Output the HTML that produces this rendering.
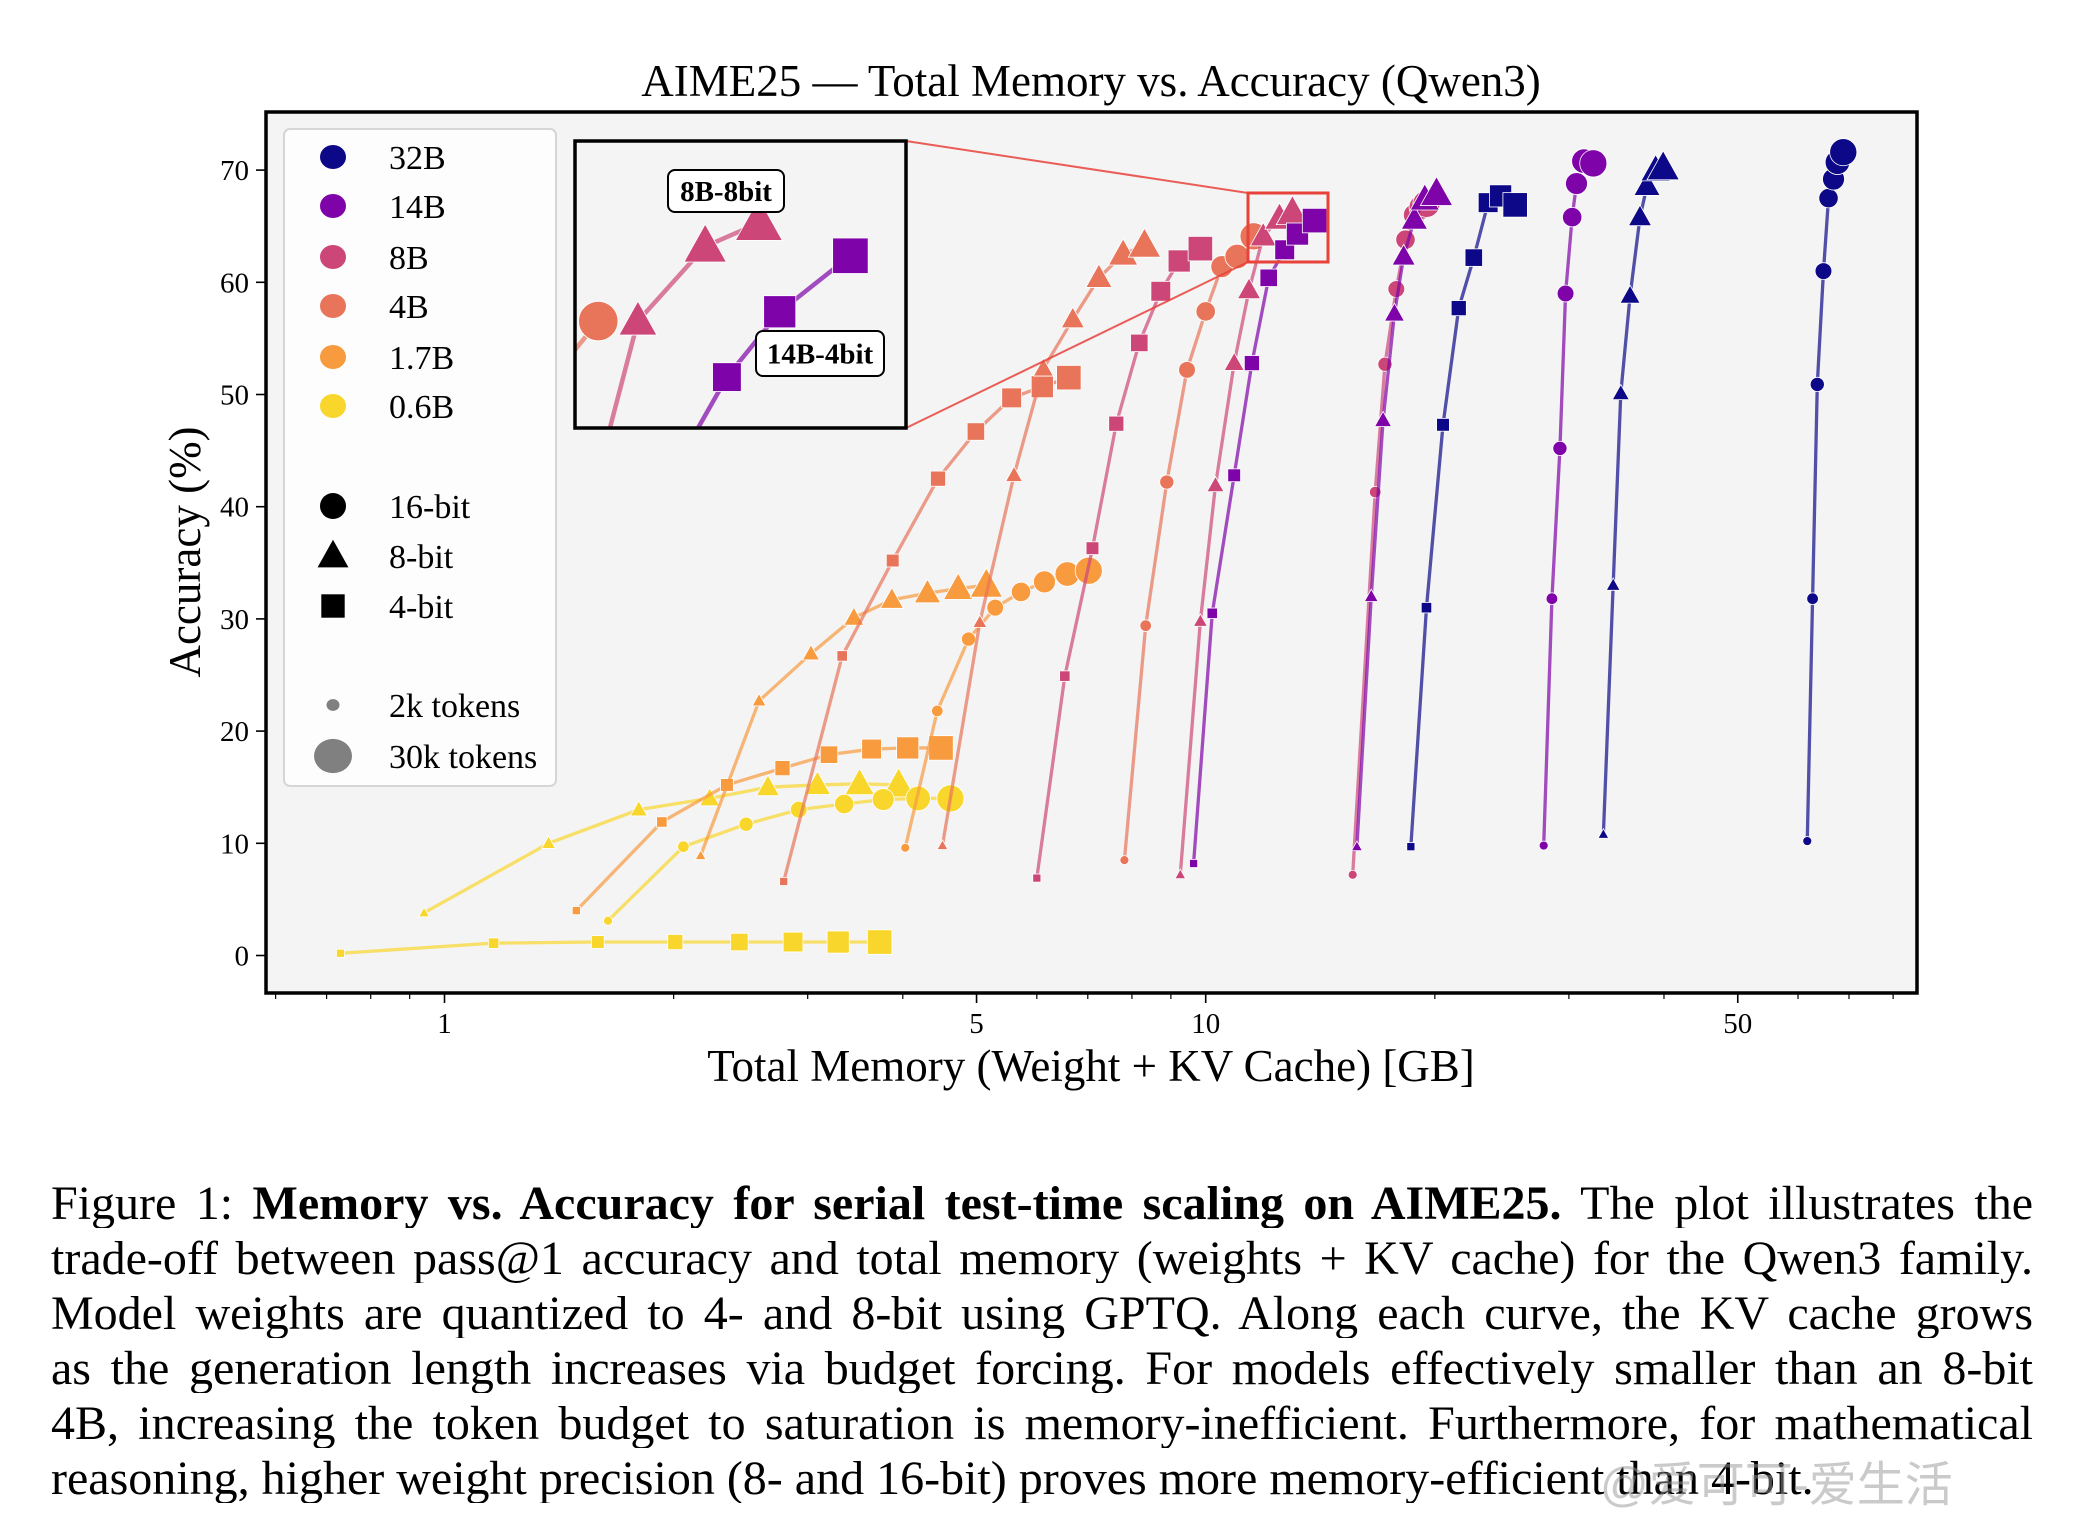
<!DOCTYPE html>
<html><head><meta charset="utf-8">
<style>
html,body{margin:0;padding:0;background:#fff;overflow:hidden;}
body{width:2076px;height:1532px;position:relative;overflow:hidden;font-family:"Liberation Serif",serif;}
svg{position:absolute;left:0;top:0;}
.cap{position:absolute;left:51px;width:1982px;font-size:48px;line-height:48px;text-align:justify;text-align-last:justify;white-space:nowrap;color:#000;overflow:hidden;}
.cap.last{text-align-last:left;}
</style></head>
<body>
<svg id="chart" width="2076" height="1100" viewBox="0 0 2076 1100" xmlns="http://www.w3.org/2000/svg" font-family="Liberation Serif, serif">
  <defs>
    <clipPath id="plotClip"><rect x="266" y="112" width="1651" height="881"/></clipPath>
    <clipPath id="insetClip"><rect x="575" y="141" width="331" height="287"/></clipPath>
  </defs>
  <text x="1091" y="96" font-size="45" text-anchor="middle">AIME25 — Total Memory vs. Accuracy (Qwen3)</text>
  <rect x="266" y="112" width="1651" height="881" fill="#f4f4f4"/>
  <g id="axes"></g>
  <g id="series" clip-path="url(#plotClip)"></g>
  <g id="zoombox"></g>
  <g id="inset"></g>
  <rect x="266" y="112" width="1651" height="881" fill="none" stroke="#000" stroke-width="3.5"/>
  <g id="legend"></g>
  <text x="1091" y="1081" font-size="45" text-anchor="middle">Total Memory (Weight + KV Cache) [GB]</text>
  <text x="0" y="0" font-size="45" text-anchor="middle" transform="translate(200,552) rotate(-90)">Accuracy (%)</text>
</svg>

<div class="cap" style="top:1180px">Figure 1: <b>Memory vs. Accuracy for serial test-time scaling on AIME25.</b> The plot illustrates the</div>
<div class="cap" style="top:1235px">trade-off between pass@1 accuracy and total memory (weights + KV cache) for the Qwen3 family.</div>
<div class="cap" style="top:1290px">Model weights are quantized to 4- and 8-bit using GPTQ. Along each curve, the KV cache grows</div>
<div class="cap" style="top:1345px">as the generation length increases via budget forcing. For models effectively smaller than an 8-bit</div>
<div class="cap" style="top:1400px">4B, increasing the token budget to saturation is memory-inefficient. Furthermore, for mathematical</div>
<div class="cap last" style="top:1455px">reasoning, higher weight precision (8- and 16-bit) proves more memory-efficient than 4-bit.</div>
<div style="position:absolute;left:1600px;top:1458px;font-family:'Liberation Sans','Noto Sans CJK SC',sans-serif;font-size:48px;line-height:56px;color:rgba(150,150,150,0.5);">@爱可可-爱生活</div>

<script>
// ---- data ----
const xTickValues = [1, 5, 10, 50];
const xMinorTicks = [0.6,0.7,0.8,0.9,2,3,4,6,7,8,9,20,30,40,60,70,80];
const yTickValues = [0, 10, 20, 30, 40, 50, 60, 70];
const modelNames = ["32B","14B","8B","4B","1.7B","0.6B"];
const modelColors = ["#0d0887","#7e03a8","#cc4778","#e8745a","#f89a3e","#f8d62c"];

const mem_32B_16 = [61.7,62.7,63.6,64.8,65.8,66.8,67.6,68.8];
const acc_32B_16 = [10.2,31.8,50.9,61.0,67.5,69.2,70.7,71.6];
const mem_32B_8 = [33.3,34.3,35.1,36.1,37.2,38.0,39.0,39.9];
const acc_32B_8 = [10.8,33.0,50.1,58.8,65.8,68.6,70.0,70.2];
const mem_32B_4 = [18.6,19.5,20.5,21.5,22.5,23.5,24.4,25.5];
const acc_32B_4 = [9.7,31.0,47.3,57.7,62.2,67.1,67.7,66.9];
const mem_14B_16 = [27.8,28.5,29.2,29.7,30.3,30.7,31.4,32.3];
const acc_14B_16 = [9.8,31.8,45.2,59.0,65.8,68.8,70.8,70.6];
const mem_14B_8 = [15.8,16.5,17.1,17.7,18.2,18.8,19.4,20.1];
const acc_14B_8 = [9.7,32.0,47.7,57.2,62.3,65.6,67.4,67.9];
const mem_14B_4 = [9.64,10.2,10.9,11.5,12.1,12.7,13.2,13.9];
const acc_14B_4 = [8.2,30.5,42.8,52.8,60.4,62.9,64.3,65.5];
const mem_8B_16 = [15.6,16.7,17.2,17.8,18.3,18.8,19.2,19.5];
const acc_8B_16 = [7.2,41.3,52.7,59.4,63.8,66.0,66.7,67.0];
const mem_8B_8 = [9.26,9.84,10.3,10.9,11.4,11.9,12.5,13.0];
const acc_8B_8 = [7.2,29.8,41.9,52.8,59.3,64.1,65.7,66.2];
const mem_8B_4 = [6.0,6.53,7.10,7.63,8.18,8.73,9.23,9.84];
const acc_8B_4 = [6.9,24.9,36.3,47.4,54.6,59.2,61.9,63.0];
const mem_4B_16 = [7.82,8.34,8.89,9.45,10.0,10.5,11.0,11.56];
const acc_4B_16 = [8.5,29.4,42.2,52.2,57.4,61.4,62.3,64.1];
const mem_4B_8 = [4.51,5.05,5.60,6.12,6.69,7.24,7.79,8.31];
const acc_4B_8 = [9.8,29.7,42.8,52.3,56.7,60.4,62.5,63.3];
const mem_4B_4 = [2.79,3.33,3.88,4.45,4.99,5.56,6.10,6.61];
const acc_4B_4 = [6.6,26.7,35.2,42.5,46.7,49.7,50.7,51.5];
const mem_17B_16 = [4.03,4.44,4.88,5.29,5.72,6.14,6.58,7.02];
const acc_17B_16 = [9.6,21.8,28.2,31.0,32.4,33.3,34.0,34.3];
const mem_17B_8 = [2.17,2.59,3.03,3.45,3.87,4.31,4.73,5.15];
const acc_17B_8 = [8.9,22.7,26.9,30.1,31.7,32.3,32.7,33.0];
const mem_17B_4 = [1.49,1.93,2.35,2.78,3.20,3.64,4.06,4.49];
const acc_17B_4 = [4.0,11.9,15.2,16.7,17.9,18.4,18.5,18.5];
const mem_06B_16 = [1.64,2.06,2.49,2.92,3.35,3.77,4.19,4.62];
const acc_06B_16 = [3.1,9.7,11.7,13.0,13.5,13.9,14.0,14.0];
const mem_06B_8 = [0.94,1.37,1.80,2.23,2.66,3.09,3.51,3.95];
const acc_06B_8 = [3.8,10.0,13.0,14.0,15.0,15.2,15.3,15.2];
const mem_06B_4 = [0.73,1.16,1.59,2.01,2.44,2.87,3.29,3.73];
const acc_06B_4 = [0.2,1.1,1.2,1.2,1.2,1.2,1.2,1.2];

const seriesList = [
  ["0.6B","4bit",mem_06B_4,acc_06B_4],["0.6B","8bit",mem_06B_8,acc_06B_8],["0.6B","16bit",mem_06B_16,acc_06B_16],
  ["1.7B","4bit",mem_17B_4,acc_17B_4],["1.7B","8bit",mem_17B_8,acc_17B_8],["1.7B","16bit",mem_17B_16,acc_17B_16],
  ["4B","4bit",mem_4B_4,acc_4B_4],["4B","8bit",mem_4B_8,acc_4B_8],["4B","16bit",mem_4B_16,acc_4B_16],
  ["8B","4bit",mem_8B_4,acc_8B_4],["8B","8bit",mem_8B_8,acc_8B_8],["8B","16bit",mem_8B_16,acc_8B_16],
  ["14B","4bit",mem_14B_4,acc_14B_4],["14B","8bit",mem_14B_8,acc_14B_8],["14B","16bit",mem_14B_16,acc_14B_16],
  ["32B","4bit",mem_32B_4,acc_32B_4],["32B","8bit",mem_32B_8,acc_32B_8],["32B","16bit",mem_32B_16,acc_32B_16]
];

// ---- scales ----
const NS = "http://www.w3.org/2000/svg";
function X(m){ return 444.5 + 761.2*Math.log10(m); }
function Y(a){ return 955.5 - 11.22*a; }
const ZB = {x0:1248, y0:193, x1:1328, y1:262};
const IN = {x0:575, y0:141, x1:906, y1:428};
function IX(px){ return IN.x0 + (px-ZB.x0)/(ZB.x1-ZB.x0)*(IN.x1-IN.x0); }
function IY(py){ return IN.y0 + (py-ZB.y0)/(ZB.y1-ZB.y0)*(IN.y1-IN.y0); }
function colorOf(name){ return modelColors[modelNames.indexOf(name)]; }
function mk(tag, attrs, parent){ const e=document.createElementNS(NS,tag); for(const k in attrs) e.setAttribute(k,attrs[k]); parent.appendChild(e); return e; }
function markerRadius(i){ return 4.5 + i*1.3; }

function drawMarker(parent, shape, cx, cy, r, color){
  let el;
  if(shape==="16bit"){
    el = mk("circle",{cx:cx,cy:cy,r:r,fill:color,stroke:"#fff","stroke-width":0.8},parent);
  } else if(shape==="8bit"){
    const s=r*1.25;
    el = mk("polygon",{points:`${cx},${cy-s} ${cx+s*0.95},${cy+s*0.7} ${cx-s*0.95},${cy+s*0.7}`,fill:color,stroke:"#fff","stroke-width":0.8},parent);
  } else {
    const s=r*0.9;
    el = mk("rect",{x:cx-s,y:cy-s,width:2*s,height:2*s,fill:color,stroke:"#fff","stroke-width":0.8},parent);
  }
  return el;
}

// ---- axes ----
const axes = document.getElementById("axes");
xTickValues.forEach(v=>{
  const x=X(v);
  const t=mk("line",{x1:x,x2:x,y1:993,y2:1003,stroke:"#000","stroke-width":1.6},axes);
  
  
  const lb=mk("text",{x:x,y:1033,"font-size":29,"text-anchor":"middle"},axes);
  lb.textContent=String(v);
  
  
});
xMinorTicks.forEach(v=>{
  const x=X(v);
  const t=mk("line",{x1:x,x2:x,y1:993,y2:999,stroke:"#000","stroke-width":1.2},axes);
  
  
});
yTickValues.forEach(v=>{
  const y=Y(v);
  const t=mk("line",{x1:256,x2:266,y1:y,y2:y,stroke:"#000","stroke-width":1.6},axes);
  
  
  const lb=mk("text",{x:249,y:y+10,"font-size":29,"text-anchor":"end"},axes);
  lb.textContent=String(v);
  
  
});

// ---- series ----
function drawSeries(parent, fx, fy, rScale, lw, prefix){
  seriesList.forEach(s=>{
    const [model,bits,mems,accs]=s;
    const color=colorOf(model);
    const g=mk("g",{},parent);
    
    
    const pts=mems.map((m,i)=>fx(X(m))+","+fy(Y(accs[i]))).join(" ");
    const pl=mk("polyline",{points:pts,fill:"none",stroke:color,"stroke-width":lw,"stroke-opacity":0.7,"stroke-linejoin":"round"},g);
    
    
    mems.forEach((m,i)=>{
      const el=drawMarker(g,bits,fx(X(m)),fy(Y(accs[i])),markerRadius(i)*rScale,color);
      
      
    });
  });
}
drawSeries(document.getElementById("series"), v=>v, v=>v, 1, 3.3, "");

// ---- zoom box + connectors ----
const zb=document.getElementById("zoombox");
const zr=mk("rect",{x:ZB.x0,y:ZB.y0,width:ZB.x1-ZB.x0,height:ZB.y1-ZB.y0,fill:"none",stroke:"#e8423a","stroke-width":3},zb);


const c1=mk("line",{x1:IN.x1,y1:IN.y0,x2:ZB.x0,y2:ZB.y0,stroke:"#e8423a","stroke-width":2,"stroke-opacity":0.85},zb);


const c2=mk("line",{x1:IN.x1,y1:IN.y1,x2:ZB.x0,y2:ZB.y1,stroke:"#e8423a","stroke-width":2,"stroke-opacity":0.85},zb);



// ---- inset ----
const ins=document.getElementById("inset");
const ib=mk("rect",{x:IN.x0,y:IN.y0,width:IN.x1-IN.x0,height:IN.y1-IN.y0,fill:"#f4f4f4"},ins);


const ig=mk("g",{"clip-path":"url(#insetClip)"},ins);


drawSeries(ig, IX, IY, 1.45, 4.5, "inset-");
const iframe=mk("rect",{x:IN.x0,y:IN.y0,width:IN.x1-IN.x0,height:IN.y1-IN.y0,fill:"none",stroke:"#000","stroke-width":3.5},ins);


function tag(x,y,w,h,txt,name){
  const r=mk("rect",{x:x,y:y,width:w,height:h,rx:7,fill:"#fff",stroke:"#000","stroke-width":2},ins);
  
  
  const t=mk("text",{x:x+w/2,y:y+h/2+10,"font-size":29,"font-weight":"bold","text-anchor":"middle"},ins);
  t.textContent=txt;
  
  
}
tag(668,170,116,42,"8B-8bit","inset-label-8b-8bit");
tag(756,331,128,45,"14B-4bit","inset-label-14b-4bit");

// ---- legend ----
const lg=document.getElementById("legend");
const lbox=mk("rect",{x:284,y:129,width:272,height:657,rx:6,fill:"#fdfdfd",stroke:"#d6d6d6","stroke-width":2},lg);


const legendY=[157,206,257,306,357,406];
modelNames.forEach((n,i)=>{
  const c=mk("ellipse",{cx:333,cy:legendY[i],rx:13,ry:12,fill:modelColors[i]},lg);
  
  
  const t=mk("text",{x:389,y:legendY[i]+12,"font-size":34},lg);
  t.textContent=n;
  
  
});
const bitNames=["16-bit","8-bit","4-bit"];
const bitShapes=["16bit","8bit","4bit"];
const bitY=[506,556,606];
bitNames.forEach((n,i)=>{
  const m=drawMarker(lg,bitShapes[i],333,bitY[i],13,"#000");
  m.setAttribute('stroke','none');
  
  
  const t=mk("text",{x:389,y:bitY[i]+12,"font-size":34},lg);
  t.textContent=n;
  
  
});
const sizeNames=["2k tokens","30k tokens"];
const sizeR=[6.5,19];
const sizeY=[705,756];
sizeNames.forEach((n,i)=>{
  const c=mk("ellipse",{cx:333,cy:sizeY[i],rx:sizeR[i],ry:sizeR[i]*0.9,fill:"#808080"},lg);
  
  
  const t=mk("text",{x:389,y:sizeY[i]+12,"font-size":34},lg);
  t.textContent=n;
  
  
});
</script>
</body></html>
